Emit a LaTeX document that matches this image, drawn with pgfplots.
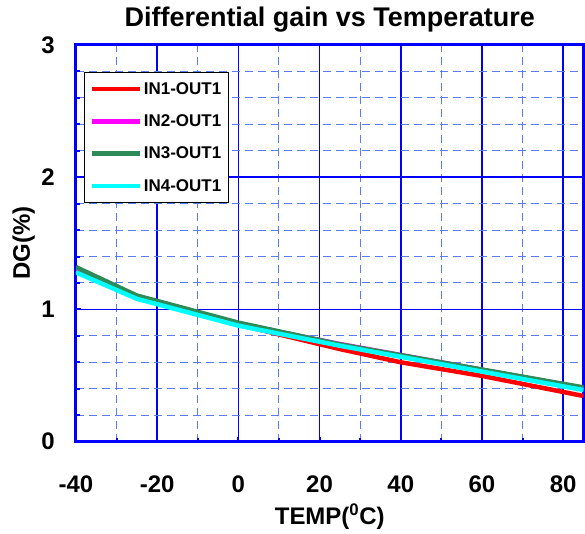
\documentclass[border=0pt]{standalone}
\usepackage{fontspec}
\setmainfont{Liberation Sans}
\usepackage{pgfplots}
\pgfplotsset{compat=1.18}
\definecolor{lineblue}{RGB}{0,0,255}
\definecolor{dashblue}{RGB}{90,125,245}
\definecolor{seagreen}{RGB}{46,139,87}
\definecolor{dgred}{RGB}{255,0,0}
\definecolor{dgmagenta}{RGB}{255,0,255}
\definecolor{dgcyan}{RGB}{0,255,255}

\begin{document}
\begin{tikzpicture}
\begin{axis}[
  scale only axis, width=508pt, height=397pt,
  xmin=-40, xmax=85, ymin=0, ymax=3,
  xtick={-40,-20,...,80}, ytick={0,1,2,3},
  minor x tick num=1, minor y tick num=4,
  grid=both,
  major grid style={color=lineblue, solid, line width=1.6pt},
  minor grid style={color=dashblue, line width=1pt, dash pattern=on 8pt off 5pt},
  axis line style={lineblue, line width=3pt},
  tick style={lineblue, line width=2pt},
  major tick length=5pt, minor tick length=4pt,
  tick align=inside,
  xtick pos=lower, ytick pos=left,
  /pgf/number format/assume math mode=true,
  ticklabel style={font=\fontsize{24}{24}\selectfont\bfseries},
  xticklabel style={anchor=center, yshift=-43pt},
  yticklabel style={anchor=center, xshift=-28pt},
  title={Differential gain vs Temperature},
  title style={at={(axis description cs:0.5,1.032)}, anchor=base, font=\fontsize{27}{27}\selectfont\bfseries},
  xlabel={TEMP(\textsuperscript{0}C)},
  xlabel style={at={(axis description cs:0.5,-0.21)}, anchor=base, font=\fontsize{24}{24}\selectfont\bfseries},
  ylabel={DG(\%)},
  ylabel style={at={(axis description cs:-0.0906,0.5)}, anchor=base, font=\fontsize{24}{24}\selectfont\bfseries},
  legend style={at={(0.016,0.932)}, anchor=north west, draw=black, line width=0.8pt,
    font=\fontsize{17}{17}\selectfont\bfseries, row sep=15pt, inner xsep=5pt, inner ysep=8pt,
    nodes={inner sep=2pt}},
  legend cell align=left,
  legend image code/.code={\draw[#1] (0pt,0pt) -- (48pt,0pt);},
  every axis plot/.append style={line width=4.5pt, line join=round},
]
\addplot[dgred] coordinates {(-40,1.29) (-25,1.09) (0,0.885) (25,0.70) (40,0.60) (60,0.497) (85,0.345)};
\addplot[dgmagenta] coordinates {(-40,1.30) (-25,1.10) (0,0.892) (25,0.738) (85,0.405)};
\addplot[seagreen] coordinates {(-40,1.32) (-25,1.105) (0,0.90) (25,0.735) (85,0.41)};
\addplot[dgcyan] coordinates {(-40,1.28) (-25,1.08) (0,0.877) (25,0.725) (85,0.39)};
\legend{IN1-OUT1,IN2-OUT1,IN3-OUT1,IN4-OUT1}
\end{axis}
\path (current axis.south west) ++(-76pt,-89pt) rectangle ++(585pt,531pt);
\end{tikzpicture}
\end{document}
